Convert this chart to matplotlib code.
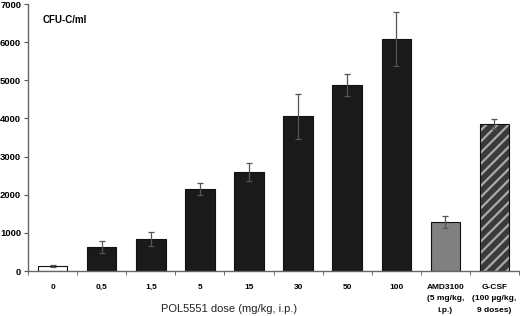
import matplotlib.pyplot as plt
import numpy as np

plt.rcParams['font.family'] = ['Liberation Sans', 'DejaVu Sans']
plt.rcParams['hatch.linewidth'] = 1.6

categorias = ['0', '0,5', '1,5', '5', '15', '30', '50', '100',
              'AMD3100\n(5 mg/kg,\ni.p.)', 'G-CSF\n(100 µg/kg,\n9 doses)']
valores = [130, 630, 840, 2150, 2600, 4060, 4880, 6090, 1290, 3860]
erros = [25, 160, 180, 160, 240, 590, 290, 710, 150, 130]
cores = ['white'] + ['#1a1a1a'] * 7 + ['#808080', '#3a3a3a']

fig = plt.figure(figsize=(5.2, 3.16), dpi=100)
ax = fig.add_axes([0.054, 0.1424, 0.944, 0.8446])

x = np.arange(len(categorias))
barras = ax.bar(x, valores, width=0.6, color=cores, edgecolor='#111111', linewidth=0.8,
                yerr=erros, ecolor='#555555', error_kw=dict(elinewidth=0.9, capsize=2, capthick=0.9))
# G-CSF com hachura clara sobre fundo escuro
barras[9].set_hatch('///')
barras[9].set_edgecolor('#aaaaaa')
barras[9].set_linewidth(0)
ax.bar(x[9], valores[9], width=0.6, color='none', edgecolor='#111111', linewidth=0.8)

ax.set_xlim(-0.5, 9.5)
ax.set_ylim(0, 7000)
ax.set_yticks(range(0, 7001, 1000))
ax.set_yticklabels([str(v) for v in range(0, 7001, 1000)], fontsize=6.8, fontweight='bold')
ax.set_xticks(x)
ax.set_xticklabels(categorias, fontsize=6, fontweight='bold', va='top')
for t in ax.get_xticklabels():
    t.set_linespacing(1.9)
ax.set_xticks(np.arange(-0.5, 9.6, 1), minor=True)
ax.tick_params(axis='x', which='major', length=0, pad=9)
ax.tick_params(axis='x', which='minor', length=3, color='#555555', direction='out')
ax.tick_params(axis='y', length=3, color='#555555', pad=2)

for s in ['top', 'right']:
    ax.spines[s].set_visible(False)
for s in ['left', 'bottom']:
    ax.spines[s].set_color('#666666')
    ax.spines[s].set_linewidth(1.0)

ax.text(0.03, 0.96, 'CFU-C/ml', transform=ax.transAxes, fontsize=7, fontweight='bold', va='top')
ax.text(3.6, -1000, 'POL5551 dose (mg/kg, i.p.)', fontsize=8, ha='center', va='center', color='#222222')

plt.savefig('out.png', dpi=100)
